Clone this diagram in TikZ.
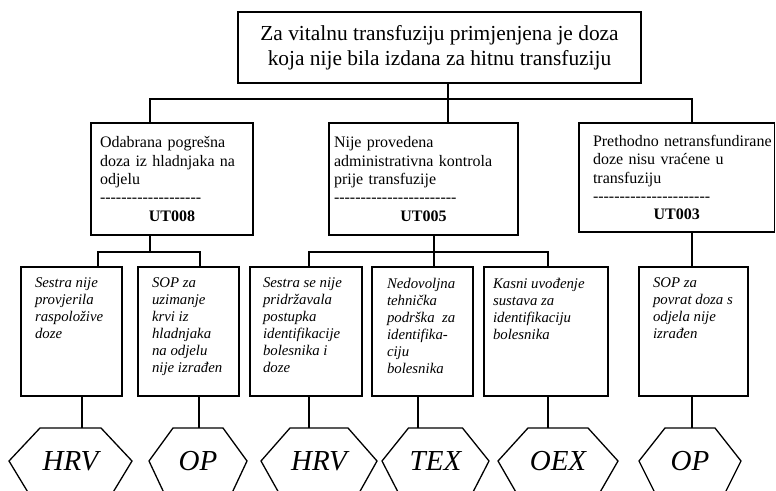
\documentclass[tikz,border=0pt]{standalone}
\usepackage{fontspec}
\setmainfont{Liberation Serif}
\newcommand\hy{\mbox{-}}
\newcommand\hyf{\hy\hy\hy\hy\hy}
\newcommand\hexdraw[3]{\draw[hexline] (#1.west) -- ([xshift=#2]#1.north west) -- ([xshift=-#2]#1.north east) -- (#1.east) -- ([xshift=-#3]#1.south east) -- ([xshift=#3]#1.south west) -- cycle;}
\tikzset{
  ln/.style={line width=1.8pt},
  topbox/.style={draw, line width=1.1pt, inner sep=0pt, outer sep=0pt, anchor=north west, align=center, font=\fontsize{21.4}{24.6}\selectfont},
  midbox/.style={draw, line width=1.8pt, inner ysep=0pt, outer sep=0pt, anchor=north west, align=left, font=\fontsize{16}{18.3}\selectfont},
  lowbox/.style={draw, line width=1.8pt, inner sep=0pt, outer sep=0pt, anchor=north west, minimum height=129pt},
  lowtext/.style={inner sep=0pt, outer sep=0pt, anchor=north west, align=left, font=\fontsize{14.8}{17}\selectfont\itshape},
  hexlab/.style={inner sep=0pt, outer sep=0pt, minimum height=66pt, font=\fontsize{29}{30}\selectfont\itshape},
  hexline/.style={line width=1.3pt, line join=miter},
}
\begin{document}
\begin{tikzpicture}[x=1pt,y=-1pt]
\useasboundingbox (0,0) rectangle (776,490);

% top
\node[topbox, minimum width=403pt, minimum height=71pt] (top) at (238,12)
  {Za vitalnu transfuziju primjenjena je doza\\koja nije bila izdana za hitnu transfuziju};

% middle boxes
\node[midbox, minimum width=162pt, minimum height=112pt, inner xsep=9pt, text width=144pt] (m1) at (91,123)
  {Odabrana pogrešna\\doza iz hladnjaka na\\odjelu\\\hyf\hyf\hyf\hy\hy\hy\hy\\\makebox[\hsize]{\textbf{UT008}}};
\node[midbox, minimum width=189pt, minimum height=112pt, inner xsep=5pt, text width=179pt] (m2) at (329,123)
  {Nije provedena\\administrativna kontrola\\prije transfuzije\\\hyf\hyf\hyf\hyf\hy\hy\hy\\\makebox[\hsize]{\textbf{UT005}}};
\node[midbox, minimum width=195.5pt, minimum height=109pt, inner xsep=14pt, text width=167.5pt] (m3) at (579,123)
  {\mbox{Prethodno netransfundirane}\\doze nisu vraćene u\\transfuziju\\\hyf\hyf\hyf\hyf\hy\hy\\\makebox[\hsize]{\textbf{UT003}}};

% bottom boxes
\node[lowbox, minimum width=101pt] (bA) at (21,267) {};
\node[lowbox, minimum width=101pt] (bB) at (138,267) {};
\node[lowbox, minimum width=112pt] (bC) at (250,267) {};
\node[lowbox, minimum width=101pt] (bD) at (372,267) {};
\node[lowbox, minimum width=124pt] (bE) at (484,267) {};
\node[lowbox, minimum width=109pt] (bF) at (639,267) {};

\node[lowtext] (tA) at ([shift={(14pt,-11pt)}]bA.north west) {Sestra nije\\provjerila\\raspoložive\\doze};
\node[lowtext] (tB) at ([shift={(14pt,-11pt)}]bB.north west) {SOP za\\uzimanje\\krvi iz\\hladnjaka\\na odjelu\\nije izrađen};
\node[lowtext] (tC) at ([shift={(13pt,-11pt)}]bC.north west) {Sestra se nije\\pridržavala\\postupka\\identifikacije\\bolesnika i\\doze};
\node[lowtext] (tD) at ([shift={(15pt,-11pt)}]bD.north west) {Nedovoljna\\tehnička\\podrška\ \ za\\identifika-\\ciju\\bolesnika};
\node[lowtext] (tE) at ([shift={(9pt,-11pt)}]bE.north west) {Kasni uvođenje\\sustava za\\identifikaciju\\bolesnika};
\node[lowtext] (tF) at ([shift={(14pt,-11pt)}]bF.north west) {SOP za\\povrat doza s\\odjela nije\\izrađen};

% hexagons
\node[hexlab, minimum width=123pt] (hA) at (70.5,461) {HRV};
\node[hexlab, minimum width=98pt]  (hB) at (198,461) {OP};
\node[hexlab, minimum width=116pt] (hC) at (319,461) {HRV};
\node[hexlab, minimum width=107pt] (hD) at (435.5,461) {TEX};
\node[hexlab, minimum width=120pt] (hE) at (558,461) {OEX};
\node[hexlab, minimum width=102pt] (hF) at (690,461) {OP};
\hexdraw{hA}{31}{20}
\hexdraw{hB}{24}{15.5}
\hexdraw{hC}{29}{18.5}
\hexdraw{hD}{26.5}{17}
\hexdraw{hE}{30}{19}
\hexdraw{hF}{26}{16.5}

% connector coordinates
\coordinate (busT) at (448,99);
\coordinate (x1) at (150,0);
\coordinate (x3) at (692,0);
\coordinate (busA) at (150,252);
\coordinate (xa) at (98,0);
\coordinate (xb) at (200,0);
\coordinate (busB) at (434,252);
\coordinate (xc) at (309,0);
\coordinate (xe) at (548,0);
\coordinate (sA) at (82,0);
\coordinate (sB) at (199,0);
\coordinate (sC) at (309,0);
\coordinate (sD) at (418,0);
\coordinate (sE) at (548,0);
\coordinate (sF) at (692,0);

% connectors
\draw[ln] (top.south -| busT) -- (m2.north -| busT);
\draw[ln] (m1.north -| x1) |- (busT) -| (m3.north -| x3);
\draw[ln] (m1.south -| x1) -- (busA);
\draw[ln] (bA.north -| xa) |- (busA) -| (bB.north -| xb);
\draw[ln] (m2.south -| busB) -- (bD.north -| busB);
\draw[ln] (bC.north -| xc) |- (busB) -| (bE.north -| xe);
\draw[ln] (m3.south -| x3) -- (bF.north -| x3);
\draw[ln] (bA.south -| sA) -- (hA.north -| sA);
\draw[ln] (bB.south -| sB) -- (hB.north -| sB);
\draw[ln] (bC.south -| sC) -- (hC.north -| sC);
\draw[ln] (bD.south -| sD) -- (hD.north -| sD);
\draw[ln] (bE.south -| sE) -- (hE.north -| sE);
\draw[ln] (bF.south -| sF) -- (hF.north -| sF);
\end{tikzpicture}
\end{document}
